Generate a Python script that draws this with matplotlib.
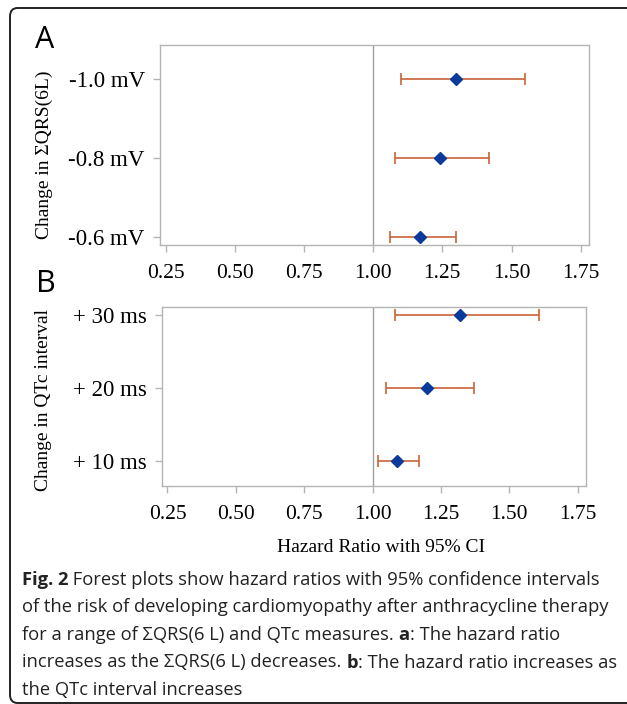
import matplotlib
matplotlib.use('Agg')
import matplotlib.pyplot as plt
from matplotlib.patches import FancyBboxPatch

# panel A: change in sum QRS (6 leads)
qrs_labels = ['-0.6 mV', '-0.8 mV', '-1.0 mV']
qrs_hr = [1.17, 1.24, 1.30]
qrs_lo = [1.06, 1.08, 1.10]
qrs_hi = [1.30, 1.42, 1.55]

# panel B: change in QTc interval
qtc_labels = ['+ 10 ms', '+ 20 ms', '+ 30 ms']
qtc_hr = [1.09, 1.20, 1.32]
qtc_lo = [1.02, 1.05, 1.08]
qtc_hi = [1.17, 1.37, 1.61]

x_ticks = [0.25, 0.50, 0.75, 1.00, 1.25, 1.50, 1.75]

W, H = 627, 704
SERIF = 'Liberation Serif'
SANS = 'Open Sans'
SPINE = '#b4b4b4'


def forest(ax, labels, hr, lo, hi, ylim):
    pos = list(range(len(labels)))
    ax.axvline(1.0, color='#a0a0a0', lw=1.0, zorder=1)
    err = [[h - l for h, l in zip(hr, lo)], [u - h for u, h in zip(hi, hr)]]
    ax.errorbar(hr, pos, xerr=err, fmt='none', ecolor='#c8633a', elinewidth=1.2,
                capsize=4, capthick=1.2, zorder=2)
    ax.plot(hr, pos, 'D', color='#0a3a9c', markersize=6, zorder=3)
    ax.set_xlim(0.23, 1.78)
    ax.set_ylim(*ylim)
    ax.set_yticks(pos)
    ax.set_yticklabels(labels, fontsize=16.5, family=SERIF)
    ax.set_xticks(x_ticks)
    ax.set_xticklabels(['%.2f' % t for t in x_ticks], fontsize=15.5, family=SERIF)
    for s in ax.spines.values():
        s.set_color(SPINE)
        s.set_linewidth(1.0)
    ax.tick_params(axis='both', colors=SPINE, labelcolor='black', length=5, width=1.0)
    ax.tick_params(axis='x', pad=9)
    ax.tick_params(axis='y', pad=6)


fig = plt.figure(figsize=(W / 100, H / 100), dpi=100)

# rounded frame, cut off on the right
frame = FancyBboxPatch((10 / W, 1 / H), 700 / W, (H - 9) / H,
                       boxstyle='round,pad=0,rounding_size=0.012',
                       transform=fig.transFigure, fill=False,
                       ec='#222222', lw=1.4, clip_on=False)
fig.patches.append(frame)

axA = fig.add_axes([160 / W, 1 - 245 / H, 429 / W, 200 / H])
forest(axA, qrs_labels, qrs_hr, qrs_lo, qrs_hi, (-0.1, 2.43))

axB = fig.add_axes([162 / W, 1 - 486 / H, 424 / W, 179 / H])
forest(axB, qtc_labels, qtc_hr, qtc_lo, qtc_hi, (-0.34, 2.11))

fig.text(45 / W, 1 - 40 / H, 'A', fontsize=22, family=SANS, ha='center', va='center')
fig.text(46 / W, 1 - 284 / H, 'B', fontsize=22, family=SANS, ha='center', va='center')

fig.text(44 / W, 1 - 155 / H, 'Change in ΣQRS(6L)', rotation=90, fontsize=14,
         family=SERIF, ha='center', va='center')
fig.text(43 / W, 1 - 400 / H, 'Change in QTc interval', rotation=90, fontsize=14,
         family=SERIF, ha='center', va='center')
fig.text(381 / W, 1 - 548 / H, 'Hazard Ratio with 95% CI', fontsize=14,
         family=SERIF, ha='center', va='center')

# caption, bold pieces chained after the regular ones
caption = [
    [('Fig. 2', 'bold'), (' Forest plots show hazard ratios with 95% confidence intervals', 'normal')],
    [('of the risk of developing cardiomyopathy after anthracycline therapy', 'normal')],
    [('for a range of ΣQRS(6 L) and QTc measures. ', 'normal'), ('a', 'bold'),
     (': The hazard ratio', 'normal')],
    [('increases as the ΣQRS(6 L) decreases. ', 'normal'), ('b', 'bold'),
     (': The hazard ratio increases as', 'normal')],
    [('the QTc interval increases', 'normal')],
]
cap_size = 13.2
for i, line in enumerate(caption):
    y = 1 - (580 + i * 27.5) / H
    prev = None
    for txt, weight in line:
        if prev is None:
            prev = fig.text(22 / W, y, txt, fontsize=cap_size, family=SANS,
                            weight=weight, ha='left', va='center', color='#222222')
        else:
            prev = fig.add_artist(plt.Annotation(
                txt, xy=(1, 0), xycoords=prev, ha='left', va='bottom',
                fontsize=cap_size, family=SANS, weight=weight, color='#222222'))

fig.savefig('out.png', dpi=100)
